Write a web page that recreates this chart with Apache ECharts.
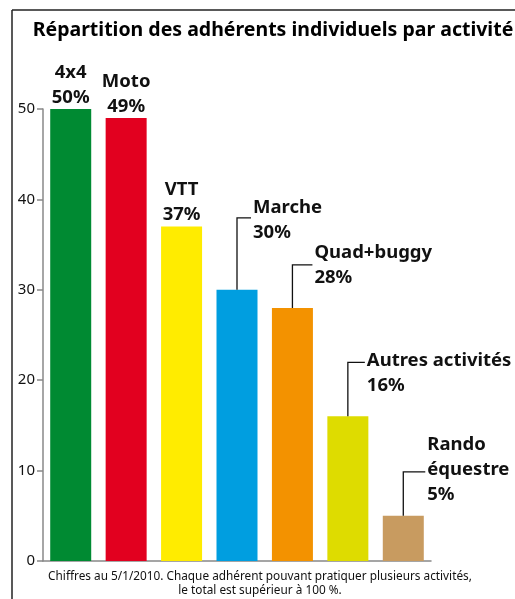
<!DOCTYPE html>
<html>
	<head>
		<meta charset="UTF-8">
		<title>Répartition des adhérents</title>
		<script src="https://cdn.jsdelivr.net/npm/echarts@6/dist/echarts.min.js"></script>
		<style>
			html, body { margin: 0; padding: 0; background: #fff; }
			#chart { width: 515px; height: 599px; }
		</style>
	</head>
	<body>
		<div id="chart"></div>
		<script>
			// données
			var categories = ['4x4', 'Moto', 'VTT', 'Marche', 'Quad+buggy', 'Autres activités', 'Rando équestre'];
			var labelNames = ['4x4', 'Moto', 'VTT', 'Marche', 'Quad+buggy', 'Autres activités', 'Rando\néquestre'];
			var values = [50, 49, 37, 30, 28, 16, 5];
			var yTicks = [0, 10, 20, 30, 40, 50];

			var barColors = ['#008a32', '#e2001f', '#ffec00', '#009ee0', '#f39200', '#dedc00', '#c89b60'];

			// placement des étiquettes (null = centrée au-dessus de la barre)
			// rise : hauteur du trait, arm : longueur du trait horizontal, off : décalage du texte
			var leaders = [null, null, null,
				{rise: 72, arm: 14, off: 23},
				{rise: 43, arm: 20, off: 25},
				{rise: 54, arm: 17, off: 14},
				{rise: 44, arm: 22, off: 40}];

			var labelFont = 'bold 18.5px "Noto Sans"';

			var chart = echarts.init(document.getElementById('chart'));

			var option = {
				animation: false,
				title: {
					text: 'Répartition des adhérents individuels par activité',
					left: 268,
					textAlign: 'center',
					top: 15,
					textStyle: {
						fontFamily: 'Noto Sans',
						fontWeight: 'bold',
						fontSize: 19.5,
						color: '#000'
					}
				},
				grid: {
					left: 43,
					right: 84,
					top: 109,
					bottom: 38
				},
				xAxis: {
					type: 'category',
					data: categories,
					axisLine: { lineStyle: { color: '#888', width: 1.5 } },
					axisTick: {
						inside: true,
						length: 11,
						interval: 0,
						lineStyle: { color: '#222', width: 1 }
					},
					axisLabel: { show: false }
				},
				yAxis: {
					type: 'value',
					min: yTicks[0],
					max: yTicks[yTicks.length - 1],
					interval: 10,
					splitLine: { show: false },
					axisLine: { show: true, lineStyle: { color: '#888', width: 1.5 } },
					axisTick: { show: true, length: 6, lineStyle: { color: '#888', width: 1.5 } },
					axisLabel: {
						margin: 8,
						fontFamily: 'Noto Sans',
						fontSize: 15,
						color: '#111'
					}
				},
				graphic: [
					// cadre
					{ type: 'line', shape: { x1: 12, y1: 10, x2: 515, y2: 10 }, style: { stroke: '#222', lineWidth: 1.5 } },
					{ type: 'line', shape: { x1: 12, y1: 10, x2: 12, y2: 599 }, style: { stroke: '#222', lineWidth: 1.5 } },
					// note de bas de page
					{
						type: 'text',
						style: {
							text: 'Chiffres au 5/1/2010. Chaque adhérent pouvant pratiquer plusieurs activités,\nle total est supérieur à 100 %.',
							x: 260,
							y: 570,
							font: '11.8px "Noto Sans"',
							fill: '#111',
							textAlign: 'center',
							textVerticalAlign: 'top',
							lineHeight: 14
						}
					}
				],
				series: [{
					type: 'bar',
					barWidth: 41,
					data: values.map(function (v, i) {
						return { value: v, itemStyle: { color: barColors[i] } };
					})
				}, {
					type: 'custom',
					z: 5,
					data: values.map(function (v, i) { return [i, v]; }),
					renderItem: function (params, api) {
						var i = api.value(0);
						var p = api.coord([i, api.value(1)]);
						var lay = leaders[i];
						var name = labelNames[i] + '\n' + values[i] + '%';
						if (!lay) {
							return {
								type: 'text',
								style: {
									text: name,
									x: p[0],
									y: p[1] + 1,
									textAlign: 'center',
									textVerticalAlign: 'bottom',
									font: labelFont,
									lineHeight: 25,
									fill: '#111'
								}
							};
						}
						var ey = p[1] - lay.rise;
						var ex = p[0] + lay.arm;
						return {
							type: 'group',
							children: [{
								type: 'polyline',
								shape: { points: [[p[0], p[1]], [p[0], ey], [ex, ey]] },
								style: { stroke: '#111', lineWidth: 1.3, fill: null }
							}, {
								type: 'text',
								style: {
									text: name,
									x: ex + 2,
									y: ey - lay.off,
									textAlign: 'left',
									textVerticalAlign: 'top',
									font: labelFont,
									lineHeight: 25,
									fill: '#111'
								}
							}]
						};
					}
				}]
			};

			chart.setOption(option);
		</script>
	</body>
</html>
